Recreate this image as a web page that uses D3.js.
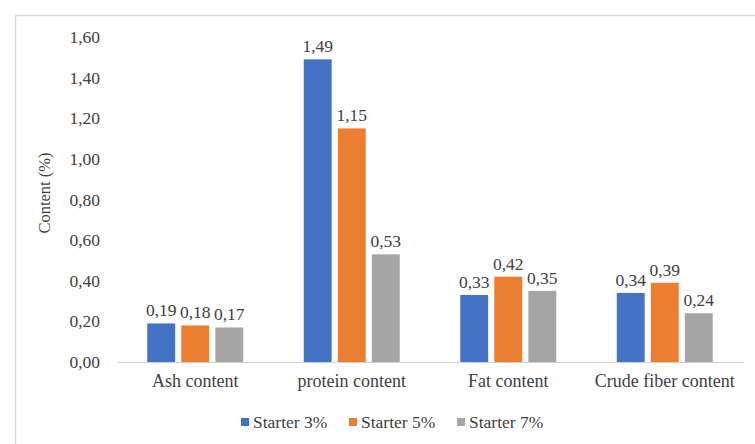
<!DOCTYPE html>
<html>
<head>
<meta charset="utf-8">
<script src="https://cdn.jsdelivr.net/npm/d3@7"></script>
<style>
  html, body { margin: 0; padding: 0; background: #fff; }
  svg { display: block; }
</style>
</head>
<body>
<svg id="chart" width="755" height="444"></svg>
<script>
// Composition of the product at three starter levels
const categories = ["Ash content", "protein content", "Fat content", "Crude fiber content"];
const seriesNames = ["Starter 3%", "Starter 5%", "Starter 7%"];
const starter3 = [0.19, 1.49, 0.33, 0.34];
const starter5 = [0.18, 1.15, 0.42, 0.39];
const starter7 = [0.17, 0.53, 0.35, 0.24];
const yTicks = [0, 0.2, 0.4, 0.6, 0.8, 1.0, 1.2, 1.4, 1.6];
const colors = ["#4472C4", "#ED7D31", "#A5A5A5"];

const FONT = "\"Liberation Serif\", monospace";
const TEXT = "#404040";
const seriesValues = [starter3, starter5, starter7];
const fmt = v => v.toFixed(2).replace(".", ",");

const svg = d3.select("#chart");

// outer chart frame
svg.append("rect")
  .attr("x", 15.5).attr("y", 15.5)
  .attr("width", 760).attr("height", 460)
  .attr("fill", "none").attr("stroke", "#d9d9d9").attr("stroke-width", 1.5);

const plot = { left: 117, right: 743, top: 37, bottom: 362 };

const x = d3.scaleBand().domain(categories).range([plot.left, plot.right]).paddingInner(0).paddingOuter(0);
const xInner = d3.scaleBand().domain(seriesNames).range([0, 96]).paddingInner(0.18);
const y = d3.scaleLinear().domain([0, 1.6]).range([plot.bottom, plot.top]);

// y axis tick labels
const yAxis = d3.axisLeft(y).tickValues(yTicks).tickFormat(fmt).tickSize(0).tickPadding(0);
const gy = svg.append("g").attr("transform", `translate(100,0)`).call(yAxis);
gy.select(".domain").remove();
gy.selectAll("text")
  .style("font-family", FONT).style("font-size", "17.5px").attr("fill", TEXT);

// baseline and category labels
const xAxis = d3.axisBottom(x).tickSize(0).tickPadding(12);
const gx = svg.append("g").attr("transform", `translate(0,${plot.bottom})`).call(xAxis);
gx.select(".domain").attr("stroke", "#d0d0d0").attr("stroke-width", 1);
gx.selectAll("text")
  .style("font-family", FONT).style("font-size", "18px").attr("fill", TEXT);

// bars
const rows = categories.map((c, i) => ({ cat: c, vals: seriesNames.map((s, j) => ({ s, j, v: seriesValues[j][i] })) }));
const groups = svg.append("g").selectAll("g").data(rows).join("g")
  .attr("transform", d => `translate(${x(d.cat) + (x.bandwidth() - 96) / 2},0)`);

groups.selectAll("rect").data(d => d.vals).join("rect")
  .attr("x", d => xInner(d.s))
  .attr("y", d => y(d.v))
  .attr("width", xInner.bandwidth())
  .attr("height", d => y(0) - y(d.v))
  .attr("fill", d => colors[d.j]);

groups.selectAll("text").data(d => d.vals).join("text")
  .attr("x", d => xInner(d.s) + xInner.bandwidth() / 2)
  .attr("y", d => y(d.v) - 7)
  .attr("text-anchor", "middle")
  .style("font-family", FONT).style("font-size", "17.5px")
  .attr("fill", TEXT)
  .text(d => fmt(d.v));

// y axis title
svg.append("text")
  .attr("transform", `translate(50,193) rotate(-90)`)
  .attr("text-anchor", "middle")
  .style("font-family", FONT).style("font-size", "16.5px")
  .attr("fill", TEXT)
  .text("Content (%)");

// legend
const legendX = [241, 349, 457];
const legend = svg.append("g").selectAll("g").data(seriesNames).join("g")
  .attr("transform", (d, i) => `translate(${legendX[i]},422)`);
legend.append("rect").attr("x", 0).attr("y", -4).attr("width", 8).attr("height", 8)
  .attr("fill", (d, i) => colors[i]);
legend.append("text").attr("x", 12).attr("y", 5.5)
  .style("font-family", FONT).style("font-size", "17.5px")
  .attr("fill", TEXT).text(d => d);
</script>
</body>
</html>
